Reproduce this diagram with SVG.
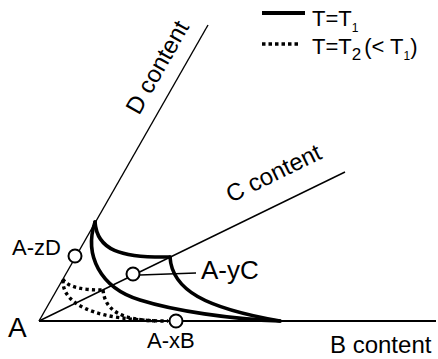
<svg xmlns="http://www.w3.org/2000/svg" width="438" height="359" viewBox="0 0 438 359">
<style>
text{font-family:"Liberation Sans",Arial,sans-serif;fill:#000}
.axis{stroke:#000;stroke-width:1.4;fill:none}
.solid{stroke:#000;stroke-width:3.6;fill:none;stroke-linecap:round}
.dot{stroke:#000;stroke-width:3.4;fill:none;stroke-dasharray:3.2 3.2}
.pt{fill:#fff;stroke:#000;stroke-width:2}
.lbl{font-size:22px}
.ax{font-size:24px}
</style>
<rect width="438" height="359" fill="#fff"/>
<g id="connectors">
<line class="axis" x1="39" y1="321" x2="436" y2="321" style="stroke-width:2"/>
<line class="axis" x1="39" y1="321" x2="208" y2="25"/>
<line class="axis" x1="39" y1="321" x2="345" y2="172"/>
<line class="axis" x1="140" y1="275" x2="196" y2="273"/>
<path class="solid" d="M95,222 C97,250 120,258 170,257"/>
<path class="solid" d="M170,257 C172,290 205,308 280,321"/>
<path class="solid" d="M95,222 C84,255 100,288 140,300 C175,311 230,319 280,321"/>
<path class="dot" d="M63,279 C68,288 85,290 103,290"/>
<path class="dot" d="M103,290 C105,310 120,320 158,321"/>
<path class="dot" d="M63,280 C62,300 85,312 115,317 C135,320 150,321 168,321"/>
</g>
<g id="legend">
<line x1="262" y1="13" x2="305" y2="13" stroke="#000" stroke-width="4"/>
<line x1="262" y1="44" x2="300" y2="44" stroke="#000" stroke-width="3.5" stroke-dasharray="3.5 3"/>
<text x="312" y="26" font-size="22">T=T<tspan font-size="12" dy="6">1</tspan></text>
<text x="312" y="54" font-size="22">T=T<tspan font-size="17" dy="6">2</tspan><tspan dy="-6" dx="3">(&lt; T</tspan><tspan font-size="12" dy="6">1</tspan><tspan dy="-6">)</tspan></text>
</g>
<g id="A"><text x="8" y="337" font-size="28">A</text></g>
<g id="B"><text class="ax" x="330" y="353">B content</text></g>
<g id="C"><text class="ax" transform="translate(231,203) rotate(-26)">C content</text></g>
<g id="D"><text class="ax" transform="translate(139,116) rotate(-60.4)">D content</text></g>
<g id="AzD"><circle class="pt" cx="75" cy="256" r="6.5"/><text class="lbl" x="12" y="255">A-zD</text></g>
<g id="AyC"><circle class="pt" cx="133" cy="274" r="6.5"/><text x="201" y="279" font-size="26">A-yC</text></g>
<g id="AxB"><circle class="pt" cx="176" cy="321" r="6.5"/><text class="lbl" x="147" y="348">A-xB</text></g>
</svg>
